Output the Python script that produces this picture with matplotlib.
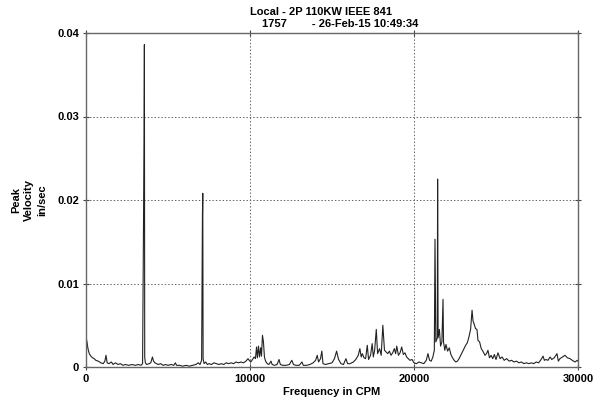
import numpy as np
import matplotlib
matplotlib.use("Agg")
import matplotlib.pyplot as plt

# Spectrum (frequency in CPM, peak velocity in in/sec)
freq = [0, 20, 60, 120, 200, 300, 400, 500, 600, 750, 900, 1050, 1150, 1220, 1290,
        1400, 1550, 1650, 1800, 1950, 2100, 2250, 2400, 2600, 2800, 3000, 3200, 3350,
        3450, 3540, 3560, 3580, 3620, 3700, 3850, 3950, 4050, 4120, 4200, 4300, 4400,
        4550, 4700, 4850, 5000, 5200, 5350, 5450, 5520, 5700, 5900, 6100, 6300, 6500,
        6700, 6850, 6950, 7050, 7100, 7120, 7140, 7200, 7300, 7400, 7500, 7650, 7800,
        7950, 8100, 8250, 8400, 8550, 8700, 8850, 9000, 9150, 9300, 9450, 9600, 9750,
        9880, 9950, 10050, 10150, 10250, 10330, 10400, 10450, 10520, 10580, 10650,
        10700, 10760, 10820, 10880, 10950, 11050, 11150, 11280, 11350, 11500, 11650,
        11770, 11850, 12000, 12200, 12400, 12550, 12650, 12800, 13000, 13170, 13250,
        13450, 13650, 13850, 14000, 14100, 14180, 14300, 14380, 14450, 14600, 14800,
        15000, 15150, 15280, 15400, 15550, 15700, 15850, 15950, 16100, 16300, 16450,
        16600, 16700, 16780, 16850, 16950, 17050, 17150, 17230, 17350, 17450, 17520,
        17600, 17700, 17780, 17900, 18000, 18100, 18200, 18300, 18400, 18500, 18600,
        18700, 18800, 18880, 18950, 19050, 19150, 19250, 19350, 19450, 19550, 19650,
        19750, 19880, 20000, 20150, 20300, 20450, 20600, 20750, 20850, 20950, 21050,
        21150, 21240, 21280, 21330, 21420, 21440, 21470, 21550, 21620, 21700, 21770,
        21800, 21880, 21950, 22050, 22150, 22250, 22350, 22450, 22550, 22650, 22750,
        22850, 22950, 23050, 23150, 23250, 23350, 23450, 23540, 23600, 23660, 23750,
        23840, 23900, 24000, 24100, 24200, 24330, 24420, 24510, 24600, 24700, 24800,
        24900, 25000, 25120, 25250, 25370, 25500, 25650, 25800, 25950, 26100, 26250,
        26400, 26550, 26700, 26850, 27000, 27150, 27300, 27450, 27600, 27750, 27870,
        27950, 28050, 28170, 28300, 28400, 28550, 28720, 28800, 28900, 29050, 29210,
        29350, 29510, 29650, 29820, 29950, 30000]
amp = [0.0, 0.0034, 0.0030, 0.0022, 0.0016, 0.0013, 0.0011, 0.0010, 0.0008, 0.0007,
       0.0005, 0.0004, 0.0007, 0.0014, 0.0005, 0.0004, 0.0006, 0.0003, 0.0005, 0.0003,
       0.0004, 0.0002, 0.0003, 0.0002, 0.0003, 0.0002, 0.0003, 0.0002, 0.0004, 0.0270,
       0.0386, 0.0012, 0.0005, 0.0003, 0.0004, 0.0005, 0.0012, 0.0007, 0.0005, 0.0004,
       0.0003, 0.0004, 0.0002, 0.0003, 0.0002, 0.0003, 0.0002, 0.0005, 0.0002, 0.0002,
       0.0001, 0.0002, 0.0001, 0.0002, 0.0003, 0.0005, 0.0003, 0.0008, 0.0182, 0.0208,
       0.0010, 0.0004, 0.0006, 0.0003, 0.0004, 0.0003, 0.0005, 0.0004, 0.0003, 0.0004,
       0.0003, 0.0005, 0.0004, 0.0005, 0.0004, 0.0006, 0.0005, 0.0006, 0.0005, 0.0007,
       0.0010, 0.0008, 0.0006, 0.0009, 0.0012, 0.0010, 0.0024, 0.0011, 0.0025, 0.0012,
       0.0023, 0.0013, 0.0038, 0.0030, 0.0012, 0.0007, 0.0004, 0.0003, 0.0007, 0.0003,
       0.0002, 0.0003, 0.0009, 0.0003, 0.0002, 0.0002, 0.0003, 0.0008, 0.0003, 0.0002,
       0.0002, 0.0006, 0.0002, 0.0002, 0.0003, 0.0005, 0.0008, 0.0014, 0.0006, 0.0010,
       0.0019, 0.0004, 0.0003, 0.0004, 0.0005, 0.0010, 0.0019, 0.0009, 0.0004, 0.0003,
       0.0010, 0.0004, 0.0004, 0.0006, 0.0009, 0.0014, 0.0022, 0.0012, 0.0016, 0.0011,
       0.0010, 0.0026, 0.0009, 0.0014, 0.0028, 0.0012, 0.0020, 0.0045, 0.0016, 0.0022,
       0.0014, 0.0050, 0.0020, 0.0018, 0.0016, 0.0019, 0.0014, 0.0017, 0.0022, 0.0016,
       0.0025, 0.0014, 0.0017, 0.0024, 0.0015, 0.0017, 0.0012, 0.0010, 0.0008, 0.0009,
       0.0005, 0.0004, 0.0006, 0.0005, 0.0004, 0.0008, 0.0016, 0.0008, 0.0007, 0.0012,
       0.0020, 0.0153, 0.0030, 0.0035, 0.0225, 0.0035, 0.0045, 0.0025, 0.0030, 0.0081,
       0.0030, 0.0020, 0.0027, 0.0019, 0.0023, 0.0015, 0.0011, 0.0008, 0.0006, 0.0007,
       0.0010, 0.0014, 0.0018, 0.0022, 0.0026, 0.0029, 0.0036, 0.0045, 0.0068, 0.0055,
       0.0052, 0.0046, 0.0045, 0.0032, 0.0030, 0.0022, 0.0019, 0.0014, 0.0016, 0.0020,
       0.0011, 0.0014, 0.0010, 0.0015, 0.0009, 0.0017, 0.0010, 0.0012, 0.0008, 0.0010,
       0.0007, 0.0008, 0.0006, 0.0007, 0.0005, 0.0006, 0.0004, 0.0005, 0.0004, 0.0005,
       0.0004, 0.0006, 0.0005, 0.0009, 0.0013, 0.0008, 0.0009, 0.0008, 0.0012, 0.0009,
       0.0011, 0.0016, 0.0007, 0.0010, 0.0012, 0.0014, 0.0011, 0.0010, 0.0008, 0.0006,
       0.0008, 0.0007]

xticks = [0, 10000, 20000, 30000]
xtick_labels = ["0", "10000", "20000", "30000"]
yticks = [0, 0.01, 0.02, 0.03, 0.04]
ytick_labels = ["0", "0.01", "0.02", "0.03", "0.04"]

title_1 = "Local - 2P 110KW IEEE 841"
title_2 = "1757        - 26-Feb-15 10:49:34"

plt.rcParams['font.family'] = ['Liberation Sans', 'DejaVu Sans']

fig = plt.figure(figsize=(6.0, 4.05), dpi=100)
ax = fig.add_axes([86 / 600, 38 / 405, 492 / 600, 334 / 405])

ax.plot(freq, amp, color='#222222', lw=0.8)

ax.set_xlim(0, 30000)
ax.set_ylim(0, 0.04)
ax.set_xticks(xticks)
ax.set_xticklabels(xtick_labels, fontsize=8, fontweight='bold')
ax.set_yticks(yticks)
ax.set_yticklabels(ytick_labels, fontsize=8, fontweight='bold')
ax.tick_params(direction='inout', length=4, width=0.8, color='#444444',
               top=True, right=True, pad=3)

ax.grid(True, linestyle=(0, (1.5, 2)), color='#666666', lw=0.7)
for s in ax.spines.values():
    s.set_color('#666666')
    s.set_linewidth(1.0)

ax.set_xlabel("Frequency in CPM", fontsize=8, fontweight='bold', labelpad=2)
ax.set_ylabel("Peak\nVelocity\nin/sec", fontsize=8, fontweight='bold',
              multialignment='center', linespacing=1.4, labelpad=7)

fig.text(321 / 600, 1 - 12 / 405, title_1, ha='center', va='center',
         fontsize=8, fontweight='bold')
fig.text(340 / 600, 1 - 24 / 405, title_2, ha='center', va='center',
         fontsize=8, fontweight='bold')

fig.savefig("out.png", dpi=100)
